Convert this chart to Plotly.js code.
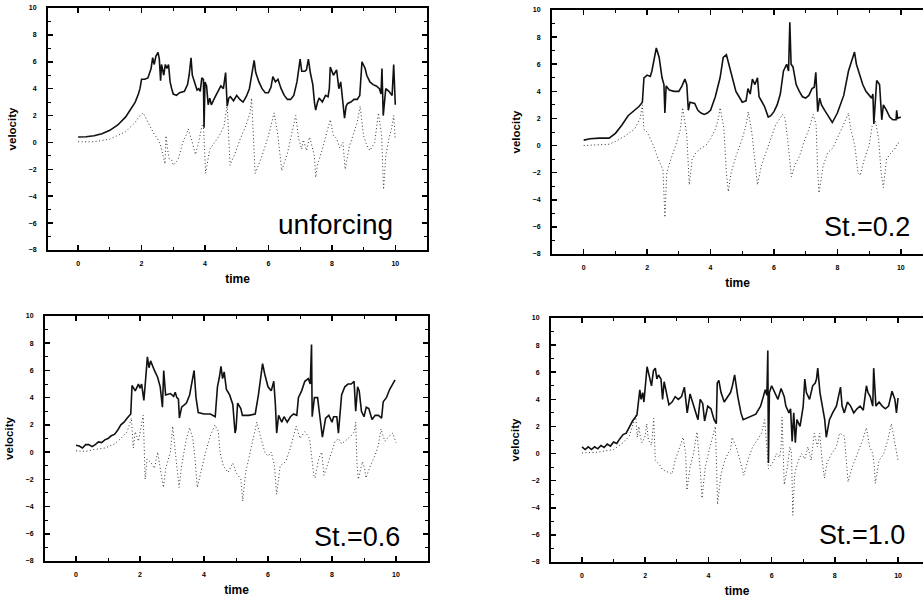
<!DOCTYPE html>
<html>
<head>
<meta charset="utf-8">
<script src="https://cdn.plot.ly/plotly-3.0.1.min.js"></script>
<style>html,body{margin:0;padding:0;background:#fff;}#chart{width:923px;height:600px;}</style>
</head>
<body>
<div id="chart"></div>
<script>
// ---- Panel 1: unforcing ----
const t_unf_solid = [0,0.25,0.5,0.75,1.0,1.25,1.5,1.7,1.8,1.9,1.95,2.0,2.1,2.2,2.3,2.35,2.4,2.45,2.52,2.56,2.6,2.63,2.7,2.75,2.8,2.85,2.9,2.95,3.0,3.1,3.2,3.35,3.45,3.5,3.56,3.6,3.7,3.75,3.8,3.85,3.9,3.95,3.97,4.0,4.05,4.1,4.15,4.2,4.3,4.4,4.5,4.58,4.65,4.7,4.75,4.8,4.9,5.0,5.1,5.2,5.3,5.4,5.48,5.55,5.6,5.7,5.8,5.9,6.0,6.08,6.14,6.22,6.3,6.4,6.5,6.6,6.7,6.8,6.9,7.0,7.05,7.15,7.2,7.26,7.32,7.4,7.45,7.49,7.55,7.6,7.7,7.8,7.88,7.92,7.95,8.05,8.15,8.22,8.28,8.35,8.4,8.45,8.5,8.6,8.7,8.8,8.88,8.95,9.05,9.1,9.2,9.3,9.4,9.5,9.55,9.58,9.62,9.7,9.8,9.9,9.95,10.0];
const v_unf_solid = [0.4,0.42,0.5,0.65,0.9,1.3,1.9,2.6,3.0,3.6,4.0,4.7,4.7,4.8,5.5,6.3,5.8,6.4,6.7,6.2,4.6,5.8,5.0,5.8,5.5,5.8,4.5,4.0,3.6,3.5,3.7,3.8,4.3,5.0,6.3,5.0,4.3,3.9,4.0,3.8,4.8,4.7,1.1,4.5,4.2,2.8,3.3,2.8,3.3,3.7,4.2,4.0,5.2,2.7,3.3,3.4,3.1,3.5,3.2,3.0,3.4,4.0,5.0,6.1,5.2,4.5,4.0,3.7,3.7,4.1,4.9,4.5,4.7,4.0,3.5,3.2,3.2,3.5,4.5,6.2,5.3,5.3,5.4,6.2,5.2,4.3,3.0,2.4,3.0,3.3,3.0,3.5,3.4,4.0,5.6,5.0,5.4,4.0,4.5,3.0,1.8,2.7,2.9,3.0,3.2,3.2,3.5,6.0,5.5,5.0,4.5,4.3,4.2,4.0,3.6,5.5,2.0,4.0,3.8,3.5,5.8,2.8];
const t_unf_dot = [0,0.5,1.0,1.5,1.8,1.95,2.05,2.2,2.3,2.4,2.5,2.6,2.74,2.77,2.82,2.87,2.95,3.0,3.15,3.3,3.4,3.47,3.6,3.7,3.8,3.9,3.95,4.02,4.15,4.3,4.45,4.6,4.7,4.79,4.95,5.1,5.3,5.42,5.47,5.58,5.8,6.0,6.12,6.18,6.3,6.36,6.42,6.6,6.75,6.86,6.95,7.05,7.1,7.2,7.3,7.4,7.45,7.49,7.55,7.7,7.85,7.95,8.05,8.15,8.25,8.35,8.42,8.55,8.65,8.8,8.89,9.0,9.1,9.2,9.35,9.42,9.47,9.57,9.63,9.7,9.8,9.88,9.95,10.0];
const v_unf_dot = [0.05,0.05,0.25,0.8,1.5,2.0,2.2,1.5,1.0,0.6,0.3,-0.2,-1.6,0.5,-0.5,-1.2,-1.3,-1.7,-1.3,0.0,0.5,1.0,0.0,-0.9,0.0,1.2,1.4,-2.3,-0.5,0.0,0.5,1.2,2.8,-1.7,-0.8,0.2,1.3,2.2,3.3,-2.3,-1.0,0.5,1.8,2.2,0.5,-0.8,-2.1,-0.8,0.8,2.0,0.3,-0.5,0.2,-0.6,0.4,-0.5,-1.0,-2.6,-1.6,-0.5,0.8,1.7,0.5,0.3,-0.4,0.0,-2.0,-0.3,0.4,1.5,2.7,0.5,-0.2,-0.6,0.0,1.5,2.2,0.5,-3.5,-1.0,0.3,1.0,2.0,0.2];

// ---- Panel 2: St.=0.2 ----
const t_st02_solid = [0,0.2,0.5,0.8,1.0,1.2,1.4,1.6,1.75,1.85,1.9,2.0,2.1,2.15,2.22,2.29,2.38,2.47,2.53,2.56,2.6,2.7,2.85,3.0,3.1,3.19,3.25,3.3,3.35,3.5,3.6,3.7,3.8,3.9,4.0,4.15,4.3,4.4,4.5,4.6,4.7,4.8,4.9,5.0,5.12,5.18,5.25,5.32,5.4,5.48,5.53,5.6,5.7,5.82,5.9,6.0,6.1,6.2,6.3,6.4,6.46,6.5,6.54,6.6,6.7,6.8,6.9,7.0,7.1,7.2,7.27,7.32,7.38,7.44,7.5,7.6,7.7,7.84,8.0,8.2,8.35,8.45,8.54,8.6,8.7,8.8,8.9,9.0,9.08,9.12,9.15,9.24,9.33,9.4,9.45,9.55,9.65,9.75,9.85,9.87,9.9,10.0];
const v_st02_solid = [0.4,0.5,0.55,0.55,0.9,1.5,2.2,2.6,2.9,3.2,5.0,5.2,5.1,5.5,6.5,7.2,6.5,5.0,4.5,2.4,4.4,4.1,4.0,4.0,4.4,4.9,4.5,2.6,3.2,3.1,2.6,2.4,2.3,2.4,2.6,3.6,5.0,6.5,6.7,5.8,4.7,4.0,3.6,3.2,3.3,4.2,3.8,4.9,4.5,5.0,3.6,3.3,2.9,2.1,2.2,2.5,3.0,3.8,5.5,6.0,5.5,9.1,6.0,5.8,4.5,4.0,3.6,3.5,3.7,4.2,4.3,5.4,2.5,3.5,3.0,2.6,2.2,1.7,2.4,3.7,5.5,6.2,6.9,6.0,5.3,4.5,4.0,3.7,3.5,3.8,1.6,4.8,4.5,1.9,3.0,2.6,2.1,1.9,1.9,2.6,2.0,2.1];
const t_st02_dot = [0,0.5,0.8,1.0,1.3,1.6,1.78,1.85,1.9,2.0,2.2,2.35,2.5,2.56,2.62,2.75,2.9,3.05,3.12,3.25,3.33,3.42,3.55,3.7,3.85,4.0,4.15,4.25,4.3,4.42,4.5,4.56,4.65,4.8,5.0,5.12,5.19,5.3,5.42,5.48,5.6,5.75,5.9,6.05,6.27,6.35,6.43,6.5,6.55,6.65,6.8,6.95,7.1,7.24,7.33,7.38,7.42,7.55,7.7,7.85,8.0,8.15,8.35,8.42,8.55,8.65,8.72,8.85,9.0,9.1,9.2,9.3,9.38,9.45,9.55,9.7,9.8,9.9,10.0];
const v_st02_dot = [0.0,0.05,0.1,0.3,0.7,1.2,2.0,3.0,1.2,1.0,0.0,-1.0,-1.8,-5.3,-2.0,-1.0,0.0,1.2,2.8,0.8,-2.9,-1.0,-0.5,-0.2,0.0,0.5,1.2,2.0,2.8,1.3,-2.0,-3.4,-2.0,-0.8,0.5,1.5,2.5,1.0,-1.5,-2.9,-1.5,-0.5,0.5,1.5,2.3,2.0,0.5,-1.0,-2.3,-1.5,-0.8,0.3,1.2,2.3,1.5,-2.0,-3.5,-1.5,-0.5,-0.2,0.5,1.3,2.4,1.2,0.0,-2.0,-2.2,-1.0,0.0,1.5,1.8,0.5,-2.0,-3.1,-1.0,-0.5,-0.3,0.2,0.1];

// ---- Panel 3: St.=0.6 ----
const t_st06_solid = [0,0.1,0.2,0.3,0.4,0.5,0.6,0.7,0.8,0.9,1.0,1.1,1.2,1.3,1.4,1.5,1.6,1.71,1.75,1.85,1.95,2.0,2.05,2.12,2.18,2.23,2.28,2.33,2.45,2.55,2.63,2.67,2.7,2.74,2.8,2.95,3.05,3.1,3.15,3.2,3.23,3.3,3.45,3.55,3.62,3.65,3.69,3.75,3.82,4.0,4.2,4.35,4.42,4.48,4.53,4.58,4.63,4.7,4.8,4.9,4.97,5.0,5.05,5.15,5.2,5.4,5.6,5.7,5.78,5.83,5.9,6.0,6.1,6.18,6.23,6.27,6.33,6.43,6.5,6.6,6.7,6.8,6.9,6.95,7.05,7.15,7.26,7.32,7.36,7.38,7.45,7.55,7.6,7.7,7.8,7.9,8.0,8.05,8.15,8.2,8.3,8.4,8.5,8.6,8.69,8.74,8.8,8.85,8.92,9.0,9.07,9.15,9.25,9.35,9.45,9.55,9.6,9.7,9.8,9.9,9.97];
const v_st06_solid = [0.5,0.45,0.3,0.55,0.55,0.4,0.55,0.75,0.7,0.9,1.0,1.2,1.3,1.6,2.0,2.2,2.5,2.8,4.9,4.5,5.0,4.7,5.0,3.8,5.5,7.0,6.2,6.7,6.0,5.5,4.8,3.7,3.3,6.0,4.2,4.3,4.1,4.4,4.0,3.9,2.5,3.3,3.6,4.2,5.2,5.4,6.0,4.0,2.9,2.8,2.8,2.6,4.8,5.5,6.3,5.4,5.9,4.6,4.2,3.5,1.4,1.7,3.6,3.2,2.7,2.7,2.8,4.2,5.5,6.5,5.7,4.8,4.5,5.2,3.5,1.4,2.7,2.2,2.6,2.2,2.6,2.8,2.7,4.0,4.5,5.2,5.4,5.0,7.9,2.6,4.0,4.0,3.0,1.1,2.5,2.7,2.2,2.6,2.6,1.4,4.2,4.8,5.0,5.0,5.2,3.0,4.8,4.5,3.0,2.6,3.3,3.2,2.4,2.7,2.7,2.5,3.7,4.0,4.6,5.0,5.3];
const t_st06_dot = [0,0.3,0.6,0.9,1.2,1.4,1.6,1.73,1.79,1.85,1.95,2.1,2.16,2.22,2.35,2.45,2.55,2.62,2.73,2.8,2.95,3.02,3.22,3.3,3.45,3.55,3.65,3.72,3.79,3.9,4.05,4.2,4.34,4.45,4.5,4.6,4.75,4.9,5.0,5.15,5.21,5.3,5.45,5.55,5.65,5.78,5.9,6.0,6.1,6.2,6.27,6.38,6.55,6.7,6.82,6.88,7.0,7.15,7.3,7.38,7.43,7.47,7.58,7.68,7.75,7.85,8.0,8.1,8.2,8.3,8.45,8.6,8.7,8.74,8.78,8.82,8.95,9.02,9.06,9.2,9.35,9.45,9.53,9.65,9.8,9.9,10.0];
const v_st06_dot = [0.1,0.05,0.2,0.3,0.6,1.0,1.5,2.5,0.3,1.5,0.8,2.7,-2.0,-0.5,-0.8,-1.2,0.0,-1.0,-2.6,-1.2,0.0,1.9,-2.6,-1.0,1.0,1.8,1.0,-0.5,-2.6,-1.5,0.0,1.2,2.0,1.5,0.0,-1.0,-1.5,-0.8,-1.5,-2.0,-3.6,-1.5,0.0,1.0,2.2,1.0,0.0,-0.3,0.0,-1.0,-3.1,-1.0,-0.7,0.3,1.5,1.9,1.0,1.5,1.0,-0.5,-1.7,-1.9,-0.5,0.0,-1.7,-1.0,0.0,0.8,1.0,0.6,0.9,1.2,1.5,2.2,-0.8,-2.0,-0.7,-1.2,-1.9,-1.0,-0.2,0.5,1.7,0.8,1.2,1.4,0.7];

// ---- Panel 4: St.=1.0 ----
const t_st10_solid = [0,0.1,0.2,0.3,0.4,0.5,0.6,0.7,0.8,0.9,1.0,1.1,1.2,1.3,1.4,1.5,1.6,1.74,1.78,1.83,1.87,1.92,1.96,2.0,2.06,2.12,2.2,2.26,2.32,2.37,2.42,2.5,2.55,2.6,2.66,2.75,2.85,2.95,3.05,3.15,3.24,3.33,3.42,3.52,3.62,3.67,3.74,3.82,3.88,3.98,4.08,4.18,4.25,4.28,4.33,4.4,4.5,4.6,4.7,4.76,4.83,4.93,5.03,5.1,5.3,5.5,5.65,5.75,5.8,5.85,5.88,5.9,5.93,6.0,6.1,6.2,6.3,6.4,6.45,6.55,6.6,6.65,6.7,6.75,6.8,6.9,7.0,7.05,7.1,7.2,7.3,7.38,7.42,7.46,7.53,7.63,7.68,7.73,7.83,7.93,8.05,8.18,8.23,8.3,8.4,8.5,8.6,8.7,8.8,8.9,9.0,9.05,9.12,9.2,9.23,9.3,9.4,9.5,9.6,9.7,9.81,9.9,9.95,10.0];
const v_st10_solid = [0.5,0.3,0.5,0.3,0.5,0.35,0.6,0.45,0.7,0.55,0.85,0.75,1.1,1.4,1.5,2.0,2.4,2.85,3.5,4.7,4.0,4.5,3.8,5.0,6.4,5.8,5.0,6.1,6.3,5.5,5.8,5.5,4.0,5.3,4.5,3.6,3.8,4.2,4.0,4.2,4.9,3.0,4.4,3.6,2.8,2.5,4.0,3.7,2.4,3.5,3.3,2.5,2.2,5.2,5.4,4.5,3.8,4.2,4.5,5.0,5.8,4.2,3.0,2.5,2.7,2.9,3.5,4.2,4.7,4.3,7.6,-0.7,4.5,5.0,4.5,4.0,4.8,4.2,3.5,3.0,3.3,0.9,3.0,0.8,2.5,2.0,3.5,5.5,4.5,4.0,5.0,5.2,5.5,6.3,4.5,3.0,2.5,1.2,2.5,3.0,3.5,4.9,3.5,3.0,3.8,3.5,3.0,3.3,3.5,3.2,5.0,4.5,4.2,3.5,6.3,3.5,3.8,3.5,3.3,3.5,4.6,4.0,3.0,4.1];
const t_st10_dot = [0,0.5,1.0,1.3,1.5,1.7,1.75,1.8,1.85,1.9,2.0,2.05,2.1,2.2,2.27,2.32,2.45,2.55,2.65,2.85,2.95,3.1,3.2,3.28,3.32,3.42,3.53,3.64,3.7,3.75,3.8,3.9,4.05,4.15,4.22,4.26,4.29,4.4,4.52,4.62,4.7,4.75,4.88,5.0,5.08,5.12,5.25,5.4,5.55,5.68,5.78,5.84,5.9,6.0,6.07,6.15,6.25,6.3,6.33,6.4,6.5,6.58,6.63,6.67,6.73,6.85,6.95,7.05,7.15,7.25,7.35,7.45,7.52,7.6,7.67,7.75,7.9,8.05,8.15,8.3,8.36,8.42,8.55,8.72,8.88,9.0,9.1,9.2,9.25,9.28,9.4,9.55,9.68,9.79,9.88,10.0];
const v_st10_dot = [0.05,0.1,0.3,0.8,1.3,2.8,1.2,2.0,1.2,0.8,1.3,2.2,1.0,0.6,2.6,-0.5,-0.8,-1.2,-1.3,-1.5,-0.5,0.5,1.2,0.0,-2.7,-1.0,0.0,1.6,0.0,-1.5,-3.3,-1.0,0.5,1.5,2.0,-1.0,-3.75,-1.5,-0.5,0.0,0.3,1.2,0.5,-0.5,-1.3,-1.6,-0.5,0.5,1.0,1.5,2.5,1.0,-1.1,-0.8,-0.5,0.0,-0.3,0.5,2.7,-2.3,-1.0,0.5,0.0,-4.55,-1.5,-0.5,0.0,-0.4,0.5,-0.5,1.5,0.5,1.5,-0.5,-1.8,-0.7,0.0,0.5,1.5,1.3,-0.5,-2.1,-1.0,0.0,1.0,1.9,0.5,0.0,-1.0,-2.2,-0.5,0.0,1.0,2.2,1.0,-0.5];

const panelLabels = ['unforcing', 'St.=0.2', 'St.=0.6', 'St.=1.0'];
const xTitle = 'time';
const yTitle = 'velocity';

const FONT = 'Liberation Sans, Arial, sans-serif';
const solidStyle = {color: '#111', width: 1.6};
const dotStyle = {color: '#333', width: 1, dash: '1px,2.5px'};

const series = [
  [t_unf_solid, v_unf_solid, t_unf_dot, v_unf_dot],
  [t_st02_solid, v_st02_solid, t_st02_dot, v_st02_dot],
  [t_st06_solid, v_st06_solid, t_st06_dot, v_st06_dot],
  [t_st10_solid, v_st10_solid, t_st10_dot, v_st10_dot]
];

const traces = [];
series.forEach((s, i) => {
  const xa = i === 0 ? 'x' : 'x' + (i + 1);
  const ya = i === 0 ? 'y' : 'y' + (i + 1);
  traces.push({x: s[2], y: s[3], xaxis: xa, yaxis: ya, type: 'scatter', mode: 'lines', line: dotStyle, hoverinfo: 'skip', showlegend: false});
  traces.push({x: s[0], y: s[1], xaxis: xa, yaxis: ya, type: 'scatter', mode: 'lines', line: solidStyle, hoverinfo: 'skip', showlegend: false});
});

function xAxis(domain, range, anchor) {
  return {
    domain: domain, range: range, anchor: anchor,
    tick0: 0, dtick: 2, ticks: 'inside', ticklen: 5, tickwidth: 1.5, tickcolor: '#000',
    minor: {dtick: 1, tick0: 0, ticks: 'inside', ticklen: 3, tickwidth: 1, tickcolor: '#000'},
    showline: true, linewidth: 2, linecolor: '#000', mirror: 'ticks',
    showgrid: false, zeroline: false, ticklabelstandoff: 6,
    tickfont: {family: FONT, size: 7, color: '#000', weight: 'bold'},
    title: {text: xTitle, font: {family: FONT, size: 12, color: '#000', weight: 'bold'}, standoff: 8}
  };
}
function yAxis(domain, anchor, mirror) {
  return {
    domain: domain, range: [-8, 10], anchor: anchor,
    tick0: 0, dtick: 2, ticks: 'inside', ticklen: 5, tickwidth: 1.5, tickcolor: '#000',
    minor: {dtick: 1, tick0: 0, ticks: 'inside', ticklen: 3, tickwidth: 1, tickcolor: '#000'},
    showline: true, linewidth: 2, linecolor: '#000', mirror: mirror,
    showgrid: false, zeroline: false, ticklabelstandoff: 8,
    tickfont: {family: FONT, size: 7, color: '#000', weight: 'bold'},
    title: {text: yTitle, font: {family: FONT, size: 11.5, color: '#000', weight: 'bold'}, standoff: 10}
  };
}

const W = 923, H = 600;
const layout = {
  width: W, height: H,
  margin: {l: 0, r: 0, t: 0, b: 0},
  paper_bgcolor: '#fff', plot_bgcolor: '#fff',
  showlegend: false,
  xaxis:  xAxis([48 / W, 427 / W], [-0.95, 11.0], 'y'),
  yaxis:  yAxis([1 - 250 / H, 1 - 8 / H], 'x', 'ticks'),
  xaxis2: xAxis([552 / W, 1], [-1.0, 10.70], 'y2'),
  yaxis2: yAxis([1 - 254 / H, 1 - 10 / H], 'x2', false),
  xaxis3: xAxis([45 / W, 428 / W], [-0.97, 11.0], 'y3'),
  yaxis3: yAxis([1 - 561 / H, 1 - 316 / H], 'x3', 'ticks'),
  xaxis4: xAxis([551 / W, 1], [-0.98, 10.79], 'y4'),
  yaxis4: yAxis([1 - 562 / H, 1 - 318 / H], 'x4', false),
  annotations: [
    {text: panelLabels[0], xref: 'x', yref: 'y', x: 10.0, y: -6.1, xanchor: 'right', yanchor: 'middle', showarrow: false, font: {family: FONT, size: 28, color: '#000'}},
    {text: panelLabels[1], xref: 'x2', yref: 'y2', x: 10.35, y: -6.0, xanchor: 'right', yanchor: 'middle', showarrow: false, font: {family: FONT, size: 27, color: '#000'}},
    {text: panelLabels[2], xref: 'x3', yref: 'y3', x: 10.2, y: -6.25, xanchor: 'right', yanchor: 'middle', showarrow: false, font: {family: FONT, size: 27, color: '#000'}},
    {text: panelLabels[3], xref: 'x4', yref: 'y4', x: 10.28, y: -6.0, xanchor: 'right', yanchor: 'middle', showarrow: false, font: {family: FONT, size: 27, color: '#000'}}
  ]
};

Plotly.newPlot('chart', traces, layout, {displayModeBar: false, staticPlot: true});
</script>
</body>
</html>
